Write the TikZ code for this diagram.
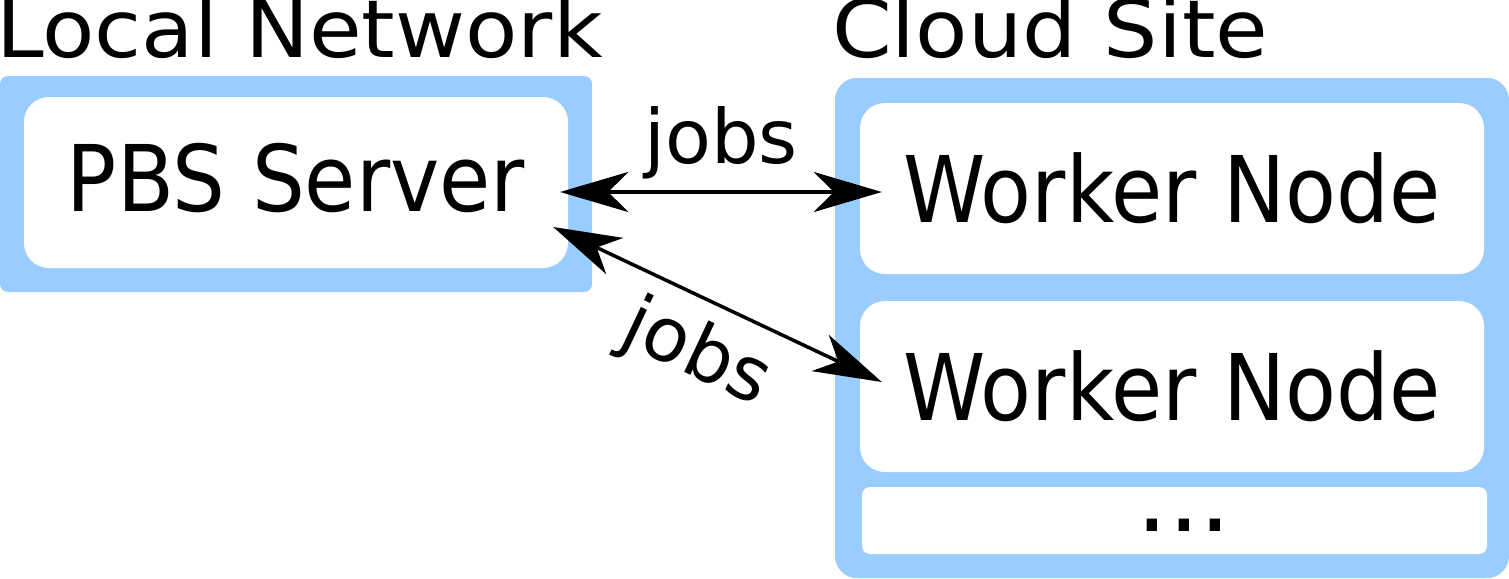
\documentclass[tikz,border=0pt]{standalone}
\usepackage{fontspec}
\setmainfont{DejaVu Sans}
\newfontfamily\boxfont[FakeStretch=0.905]{DejaVu Sans}
\newfontfamily\headfont[FakeStretch=1.07]{DejaVu Sans}
\usetikzlibrary{arrows.meta,calc}
\definecolor{siteblue}{HTML}{99CCFF}
\begin{document}
\begin{tikzpicture}[x=1pt,y=-1pt,
  sitebox/.style={rectangle, fill=siteblue, draw=none, inner sep=0pt},
  hostbox/.style={rectangle, fill=white, draw=none, inner sep=0pt,
    rounded corners=25pt, font=\boxfont\fontsize{92}{92}\selectfont,
    minimum width=624pt, minimum height=171pt, text height=67pt, text depth=0pt},
  headtext/.style={anchor=base west, inner sep=0pt, font=\headfont\fontsize{80}{80}\selectfont},
  jobstext/.style={inner sep=0pt, font=\fontsize{75}{75}\selectfont},
  jobarrow/.style={line width=3.5pt,
    {Stealth[length=68pt,width=40pt,inset=20pt]}-{Stealth[length=68pt,width=40pt,inset=20pt]}}
]
\useasboundingbox (0,0) rectangle (1509,578);

% site backgrounds
\node[sitebox, rounded corners=8pt, minimum width=592pt, minimum height=216pt] (local) at (296,184) {};
\node[sitebox, rounded corners=22pt, minimum width=674pt, minimum height=500pt] (cloud) at (1172,328) {};

% titles
\node[headtext] (localtitle) at (-4,58) {Local Network};
\node[headtext] (cloudtitle) at (832,58) {Cloud Site};

% hosts
\node[hostbox, minimum width=544pt, text depth=10pt] (pbs) at (296,182.5) {PBS Server};
\node[hostbox] (w1) at (1172,188.5) {Worker Node};
\node[hostbox] (w2) at (1172,386.5) {Worker Node};
\node[hostbox, rounded corners=8pt, minimum width=625pt, minimum height=61pt] (more) at (1174.5,520.5) {};
\node[anchor=base, inner sep=0pt, font=\fontsize{100}{100}\selectfont] (dots) at (1184,531) {...};

% connectors
\draw[jobarrow] ($(pbs.east)+(-8,9.5)$) -- node[jobstext, anchor=base, yshift=29pt] (jobs1) {jobs} ($(w1.west)+(22,3.5)$);
\draw[jobarrow] ($(pbs.east)+(-15,44.5)$) -- ($(w2.west)+(22,-4.5)$);
\node[jobstext, rotate=-25.2] (jobs2) at (696,355) {jobs};
\end{tikzpicture}
\end{document}
